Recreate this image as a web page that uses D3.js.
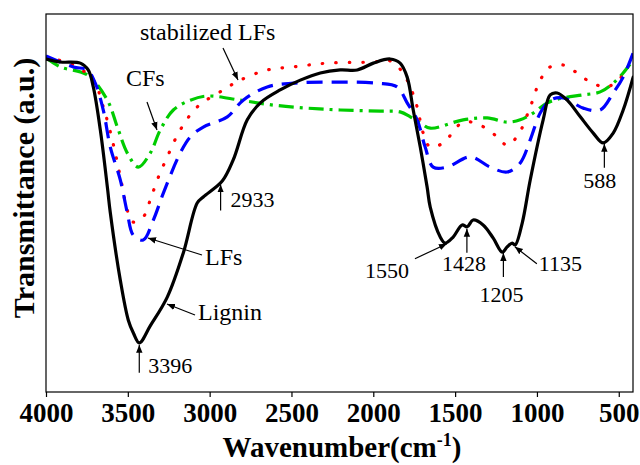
<!DOCTYPE html>
<html>
<head>
<meta charset="utf-8">
<title>FTIR</title>
<style>
  body { margin: 0; background: #fff; }
  text { font-family: "Liberation Serif", "Times New Roman", serif; }
</style>
</head>
<body>
<script src="https://cdnjs.cloudflare.com/ajax/libs/d3/7.8.5/d3.min.js"></script>
<script>
// wavenumbers (cm-1) and transmittance (a.u.)
var ligninWn = [4000, 3913, 3790, 3742, 3711, 3668, 3625, 3607, 3546, 3497, 3466, 3430, 3363, 3259, 3161, 3076, 3039, 2923, 2856, 2770, 2690, 2569, 2446, 2324, 2202, 2098, 2000, 1897, 1836, 1793, 1756, 1713, 1671, 1652, 1591, 1561, 1512, 1457, 1426, 1390, 1329, 1267, 1212, 1182, 1151, 1133, 1090, 1041, 962, 919, 876, 815, 735, 656, 595, 534, 473, 412];
var ligninT  = [88.1, 87.3, 87.0, 85.2, 80.7, 69.3, 54.2, 47.4, 29.6, 19.0, 15.6, 13.0, 17.5, 25.1, 36.8, 50.0, 51.6, 55.8, 61.4, 72.0, 76.5, 79.9, 82.5, 84.4, 85.2, 85.2, 87.0, 88.1, 87.0, 83.3, 74.6, 64.8, 54.2, 48.9, 41.0, 39.4, 41.0, 44.2, 43.7, 45.5, 44.2, 40.7, 37.0, 38.4, 39.4, 38.9, 44.7, 56.1, 72.0, 78.6, 79.1, 77.2, 72.8, 68.5, 65.9, 68.5, 74.6, 83.3];

var lfsWn = [4000, 3833, 3748, 3699, 3650, 3607, 3546, 3503, 3467, 3406, 3344, 3283, 3180, 3118, 3039, 2892, 2795, 2648, 2489, 2263, 1976, 1854, 1793, 1732, 1683, 1634, 1549, 1408, 1286, 1182, 1102, 1041, 980, 919, 839, 717, 613, 534, 473, 412];
var lfsT  = [88.9, 86.0, 85.2, 81.7, 74.6, 64.8, 56.1, 47.4, 41.5, 40.2, 45.5, 52.6, 63.2, 67.5, 70.1, 72.8, 77.2, 80.7, 81.7, 82.0, 81.7, 80.7, 76.5, 72.0, 64.8, 59.5, 59.5, 62.2, 59.5, 58.2, 60.6, 66.7, 73.8, 77.2, 77.8, 75.1, 74.6, 79.1, 83.3, 89.7];

var stabWn = [4000, 3833, 3711, 3650, 3595, 3546, 3503, 3473, 3406, 3363, 3320, 3259, 3180, 3076, 2917, 2813, 2648, 2489, 2282, 2000, 1897, 1823, 1774, 1732, 1695, 1652, 1573, 1451, 1347, 1243, 1182, 1115, 1041, 980, 919, 839, 754, 674, 570, 491, 418];
var stabT  = [88.6, 86.5, 82.5, 75.4, 66.7, 56.9, 48.1, 45.0, 46.3, 50.8, 56.1, 62.2, 69.3, 75.4, 79.9, 82.5, 85.2, 86.0, 87.0, 87.3, 87.6, 84.7, 80.7, 75.4, 68.5, 64.8, 65.9, 71.4, 70.6, 67.5, 65.3, 68.0, 75.4, 82.5, 86.0, 86.5, 84.4, 82.0, 80.7, 83.1, 85.2];

var cfsWn = [4000, 3913, 3748, 3625, 3564, 3503, 3436, 3363, 3302, 3222, 3118, 3015, 2813, 2611, 2404, 2202, 1958, 1836, 1774, 1713, 1652, 1451, 1304, 1182, 1102, 1023, 937, 839, 717, 613, 534, 473, 412];
var cfsT  = [88.4, 86.0, 83.9, 77.2, 70.1, 63.2, 59.5, 63.2, 69.3, 74.6, 77.2, 78.3, 77.2, 75.9, 75.1, 74.6, 74.3, 74.1, 72.8, 71.2, 69.8, 72.0, 72.5, 71.4, 72.0, 73.8, 76.5, 77.8, 78.6, 79.4, 81.7, 84.4, 87.8];

var xTicks = [4000, 3500, 3000, 2500, 2000, 1500, 1000, 500];

// peak labels: where the arrow points on the lignin curve, and the text
var peakAt  = [3430, 2933, 1550, 1428, 1205, 1135, 588];
var peakTxt = ["3396", "2933", "1550", "1428", "1205", "1135", "588"];

var w = 640, h = 465;
var mLeft = 46, mRight = 633, mTop = 14, mBottom = 392;

var x = d3.scaleLinear().domain([4000, 413]).range([mLeft, mRight]);
var y = d3.scaleLinear().domain([0, 100]).range([mBottom, mTop]);

var svg = d3.select("body").append("svg")
    .attr("width", w)
    .attr("height", h);

var defs = svg.append("defs");
defs.append("marker")
    .attr("id", "arr")
    .attr("viewBox", "0 0 10 10")
    .attr("refX", 10).attr("refY", 5)
    .attr("markerWidth", 8).attr("markerHeight", 8)
    .attr("markerUnits", "userSpaceOnUse")
    .attr("orient", "auto")
    .append("path")
    .attr("d", "M0,1 L10,5 L0,9 Z")
    .attr("fill", "#000");

defs.append("clipPath").attr("id", "clip")
    .append("rect")
    .attr("x", mLeft).attr("y", mTop)
    .attr("width", mRight - mLeft).attr("height", mBottom - mTop);

var line = d3.line()
    .x(function(d) { return x(d[0]); })
    .y(function(d) { return y(d[1]); })
    .curve(d3.curveCatmullRom.alpha(0.5));

function pairs(a, b) {
    return a.map(function(v, i) { return [v, b[i]]; });
}

var series = [
    { wn: cfsWn, t: cfsT, color: "#00cc00", dash: "15,6,3,6", cap: "butt" },
    { wn: stabWn, t: stabT, color: "#ff0000", dash: "0.5,13", cap: "round" },
    { wn: lfsWn, t: lfsT, color: "#0000ff", dash: "16,9", cap: "butt" },
    { wn: ligninWn, t: ligninT, color: "#000000", dash: null, cap: "round" }
];

var g = svg.append("g").attr("clip-path", "url(#clip)");
series.forEach(function(s) {
    g.append("path")
        .datum(pairs(s.wn, s.t))
        .attr("d", line)
        .attr("fill", "none")
        .attr("stroke", s.color)
        .attr("stroke-width", 3.2)
        .attr("stroke-linecap", s.cap)
        .attr("stroke-linejoin", "round")
        .attr("stroke-dasharray", s.dash);
});

// frame
svg.append("rect")
    .attr("x", mLeft).attr("y", mTop)
    .attr("width", mRight - mLeft).attr("height", mBottom - mTop)
    .attr("fill", "none")
    .attr("stroke", "#000")
    .attr("stroke-width", 1.2);

// x axis
var xAxis = svg.append("g")
    .attr("transform", "translate(0," + mBottom + ")")
    .call(d3.axisBottom(x).tickValues(xTicks).tickSize(5).tickPadding(6).tickFormat(d3.format("d")));
xAxis.select(".domain").remove();
xAxis.selectAll("line").attr("stroke", "#000").attr("stroke-width", 1.2);
xAxis.selectAll("text")
    .attr("font-family", "'Liberation Serif', 'Times New Roman', serif")
    .attr("font-size", 27)
    .attr("font-weight", "bold")
    .attr("fill", "#000");

// axis titles
var xt = svg.append("text")
    .attr("x", 342).attr("y", 457)
    .attr("text-anchor", "middle")
    .attr("font-size", 29)
    .attr("font-weight", "bold");
xt.append("tspan").text("Wavenumber(cm");
xt.append("tspan").attr("dy", -11).attr("font-size", 18).text("-1");
xt.append("tspan").attr("dy", 11).text(")");

svg.append("text")
    .attr("transform", "translate(34,188) rotate(-90)")
    .attr("text-anchor", "middle")
    .attr("font-size", 30)
    .attr("font-weight", "bold")
    .text("Transmittance (a.u.)");

// annotations
function arrow(x1, y1, x2, y2) {
    svg.append("line")
        .attr("x1", x1).attr("y1", y1).attr("x2", x2).attr("y2", y2)
        .attr("stroke", "#000").attr("stroke-width", 1.2)
        .attr("marker-end", "url(#arr)");
}
function label(tx, ty, s, size) {
    svg.append("text").attr("x", tx).attr("y", ty)
        .attr("font-size", size).text(s);
}

function lig(wn) {
    var i = d3.bisector(function(d) { return -d; }).left(ligninWn, -wn);
    if (ligninWn[i] === wn) return ligninT[i];
    var t = (wn - ligninWn[i - 1]) / (ligninWn[i] - ligninWn[i - 1]);
    return ligninT[i - 1] + t * (ligninT[i] - ligninT[i - 1]);
}

// tail offset dx, dy from the tip, label offset dx, label baseline
var peakTail = [[0, 28, 9, 373], [0, 26, 10, 207], [-32, 15, -82, 278], [0, 24, -25, 271], [0, 24, -24, 302], [22, 17, 24, 271], [0, 24, -21, 188]];
peakAt.forEach(function(p, i) {
    var px = x(p), py = y(lig(p)) + 2;
    var o = peakTail[i];
    arrow(px + o[0], py + o[1], px, py);
    label(px + o[2], o[3], peakTxt[i], 22);
});

label(140, 40, "stabilized LFs", 24);
arrow(223, 48, 238, 80);
label(126, 86, "CFs", 24);
arrow(147, 102, 157, 130);
label(205, 265, "LFs", 24);
arrow(202, 255, 148, 238);
label(198, 320, "Lignin", 24);
arrow(195, 315, 167, 304);
</script>
</body>
</html>
